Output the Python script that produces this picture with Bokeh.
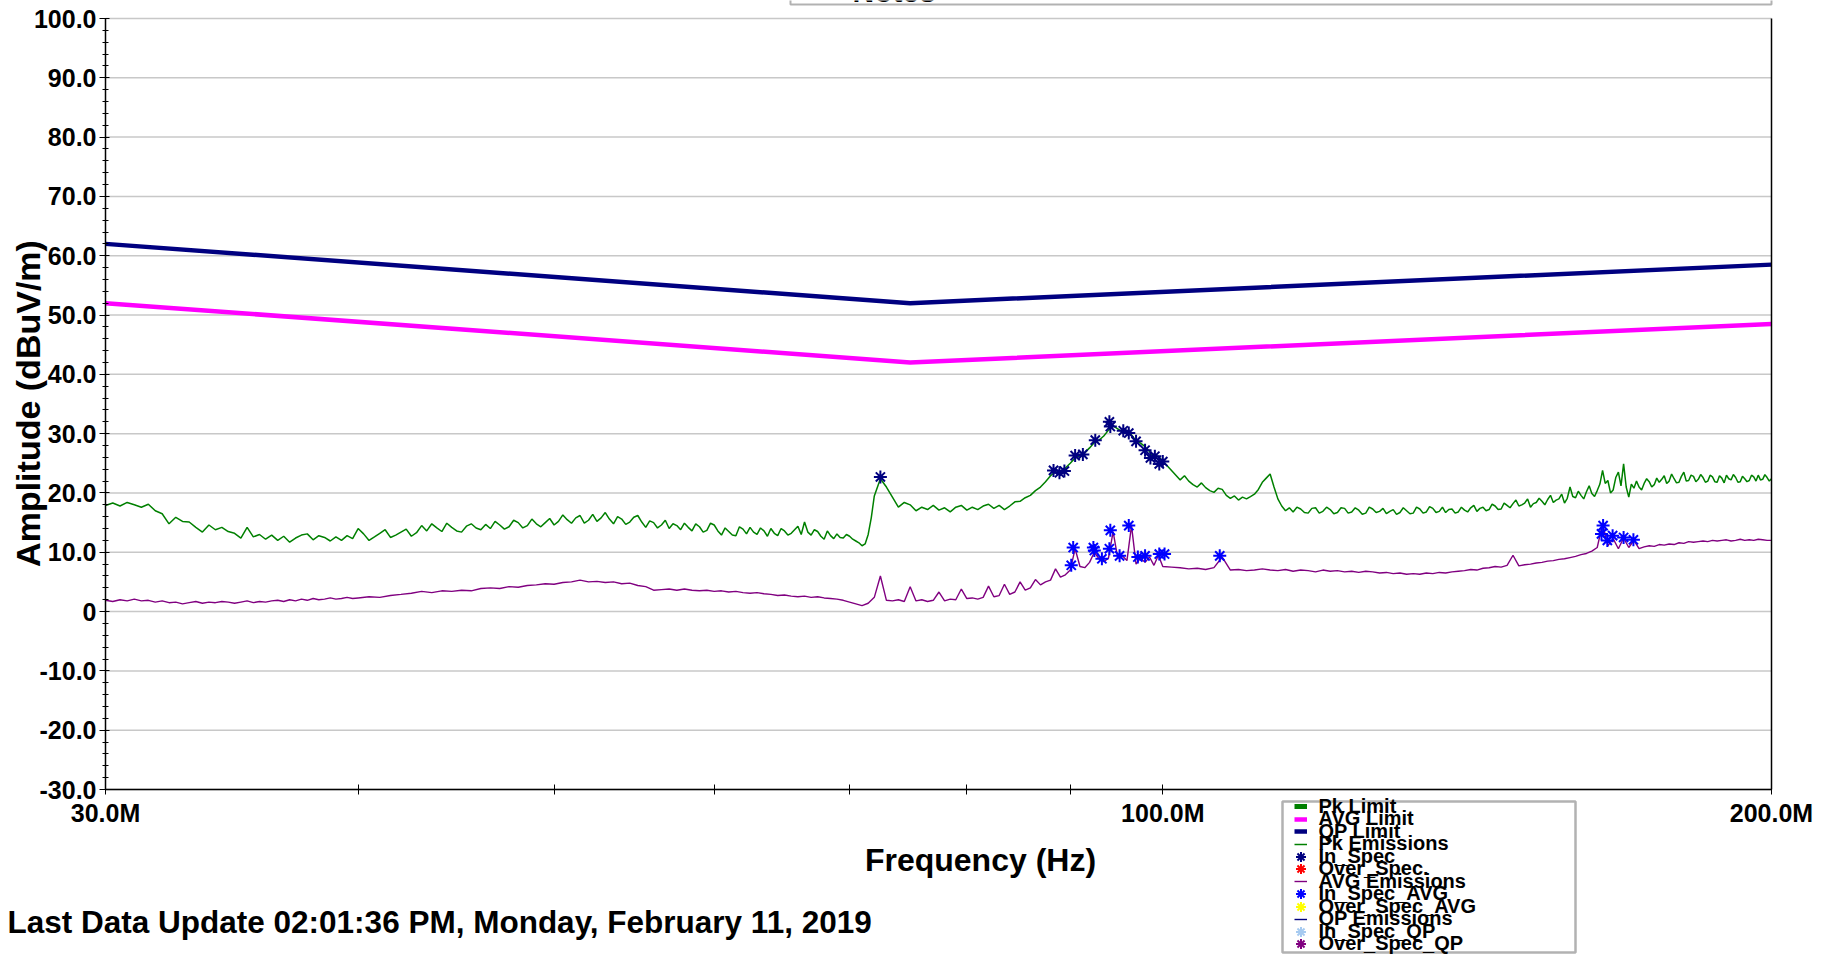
from math import pi, log, exp
from bokeh.plotting import figure
from bokeh.models import (Range1d, FixedTicker, LinearAxis, Label, Legend,
                          LegendItem, BoxAnnotation)
from bokeh.embed import file_html
from bokeh.resources import INLINE

FONT = "Liberation Sans"
NAN = float("nan")

# ---------------- data ----------------
# Peak emissions sweep (MHz, dBuV/m)
pk_freq_mhz = [
    30.0, 30.25, 30.5, 30.75, 31.0, 31.25, 31.5, 31.75, 32.0, 32.25, 32.5, 32.75,
    33.0, 33.25, 33.5, 33.75, 34.0, 34.25, 34.5, 34.75, 35.0, 35.25, 35.5, 35.75,
    36.0, 36.25, 36.5, 36.75, 37.0, 37.25, 37.5, 37.75, 38.0, 38.25, 38.5, 38.75,
    39.0, 39.25, 39.5, 39.75, 40.0,
    40.25, 40.5, 40.75, 41.0, 41.25, 41.5, 41.75, 42.0, 42.25, 42.5, 42.75, 43.0,
    43.25, 43.5, 43.75, 44.0, 44.25, 44.5, 44.75, 45.0, 45.25, 45.5, 45.75, 46.0,
    46.25, 46.5, 46.75, 47.0, 47.25, 47.5, 47.75, 48.0, 48.25, 48.5, 48.75, 49.0,
    49.25, 49.5, 49.75, 50.0, 50.25, 50.5, 50.75, 51.0, 51.25, 51.5, 51.75, 52.0,
    52.25, 52.5, 52.75, 53.0, 53.25, 53.5, 53.75, 54.0, 54.25, 54.5, 54.75, 55.0,
    55.25, 55.5, 55.75, 56.0, 56.25, 56.5, 56.75, 57.0, 57.25, 57.5, 57.75, 58.0,
    58.25, 58.5, 58.75, 59.0, 59.25, 59.5, 59.75, 60.0, 60.25, 60.5, 60.75, 61.0,
    61.25, 61.5, 61.75, 62.0, 62.25, 62.5, 62.75, 63.0, 63.25, 63.5, 63.75, 64.0,
    64.25, 64.5, 64.75, 65.0, 65.25, 65.5, 65.75, 66.0, 66.25, 66.5, 66.75, 67.0,
    67.25, 67.5, 67.75, 68.0, 68.25, 68.5, 68.75, 69.0, 69.25, 69.5, 69.75, 70.0,
    70.25, 70.5, 70.75, 71.0, 71.25, 71.5, 71.75, 72.0,
    72.5, 73.0, 73.5, 74.0, 74.5, 75.0, 75.5, 76.0, 76.5, 77.0, 77.5, 78.0, 78.5,
    79.0, 79.5, 80.0, 80.5, 81.0, 81.5, 82.0, 82.5, 83.0, 83.5, 84.0, 84.5, 85.0,
    85.5, 86.0, 86.5, 87.0, 87.5, 88.0, 88.5, 89.0, 89.5, 90.0, 90.5, 91.0, 91.5,
    92.0, 92.5, 93.0, 93.5, 94.0, 94.5, 95.0, 95.5, 96.0, 96.5, 97.0, 97.5, 98.0,
    98.5, 99.0, 99.5, 100.0,
    100.5, 101.0, 101.5, 102.0, 102.5, 103.0, 103.5, 104.0, 104.5, 105.0,
    105.5, 106.0, 106.5, 107.0, 107.5, 108.0, 108.5, 109.0, 109.5, 110.0,
    110.5, 111.0, 111.5, 112.0, 112.5, 113.0, 113.5, 114.0, 114.5, 115.0,
    115.5, 116.0, 116.5, 117.0, 117.5, 118.0, 118.5, 119.0, 119.5, 120.0,
    120.5, 121.0, 121.5, 122.0, 122.5, 123.0, 123.5, 124.0, 124.5, 125.0,
    125.5, 126.0, 126.5, 127.0, 127.5, 128.0, 128.5, 129.0, 129.5, 130.0,
    130.5, 131.0, 131.5, 132.0, 132.5, 133.0, 133.5, 134.0, 134.5, 135.0,
    135.5, 136.0, 136.5, 137.0, 137.5, 138.0, 138.5, 139.0, 139.5, 140.0,
    140.5, 141.0, 141.5, 142.0, 142.5, 143.0, 143.5, 144.0, 144.5, 145.0,
    145.5, 146.0, 146.5, 147.0, 147.5, 148.0, 148.5, 149.0, 149.5, 150.0,
    150.5, 151.0, 151.5, 152.0, 152.5, 153.0, 153.5, 154.0, 154.5, 155.0,
    155.5, 156.0, 156.5, 157.0, 157.5, 158.0, 158.5, 159.0, 159.5, 160.0,
    160.5, 161.0, 161.5, 162.0, 162.5, 163.0, 163.5, 164.0, 164.5, 165.0,
    165.5, 166.0, 166.5, 167.0, 167.5, 168.0, 168.5, 169.0, 169.5, 170.0,
    170.5, 171.0, 171.5, 172.0, 172.5, 173.0, 173.5, 174.0, 174.5, 175.0,
    175.5, 176.0, 176.5, 177.0, 177.5, 178.0, 178.5, 179.0, 179.5, 180.0,
    180.5, 181.0, 181.5, 182.0, 182.5, 183.0, 183.5, 184.0, 184.5, 185.0,
    185.5, 186.0, 186.5, 187.0, 187.5, 188.0, 188.5, 189.0, 189.5, 190.0,
    190.5, 191.0, 191.5, 192.0, 192.5, 193.0, 193.5, 194.0, 194.5, 195.0,
    195.5, 196.0, 196.5, 197.0, 197.5, 198.0, 198.5, 199.0, 199.5, 200.0,
]

pk_emissions = [
    17.9, 18.3, 17.8, 18.4, 18.0, 17.6, 18.1, 17.0, 16.5, 14.8, 15.9, 15.2,
    15.1, 14.2, 13.4, 14.6, 13.8, 14.2, 13.5, 13.2, 12.4, 14.2, 12.6, 13.0,
    12.2, 12.9, 12.0, 12.7, 11.7, 12.4, 12.9, 13.1, 12.1, 12.8, 12.5, 11.9,
    12.6, 12.0, 12.8, 12.3, 14.0,
    13.1, 12.0, 12.6, 13.2, 13.8, 12.5, 12.9, 13.4, 13.9, 12.7, 13.3, 14.5,
    13.6, 14.8, 14.1, 13.5, 14.9, 14.2, 13.6, 13.4, 14.4, 14.8, 14.1, 13.8,
    14.7, 14.0, 15.2, 14.6, 13.9, 14.3, 15.4, 15.0, 14.1, 14.5, 15.6, 14.8,
    14.3, 15.0, 15.7, 14.6, 15.2, 16.3, 15.5, 14.9, 15.8, 16.2, 14.9, 15.4,
    16.4, 15.2, 15.8, 16.7, 15.6, 14.8, 16.0, 15.6, 14.7, 15.1, 15.9, 16.2,
    15.1, 14.2, 15.3, 15.0, 14.1, 14.6, 15.4, 14.0, 14.8, 14.5, 13.8, 14.9,
    14.2, 13.6, 14.8, 14.3, 13.4, 13.7, 14.9, 14.6, 13.6, 12.9, 14.1, 13.5,
    12.9, 12.8, 14.3, 13.9, 13.1, 14.2, 13.4, 13.0, 14.1, 13.6, 12.7, 14.0,
    13.2, 12.8, 14.0, 13.6, 12.9, 13.2, 13.8, 14.4, 13.0, 15.1, 13.4, 12.9,
    13.8, 13.5, 12.7, 12.2, 13.6, 12.8, 12.3, 13.1, 12.5, 12.4, 13.0, 12.7,
    12.2, 11.9, 11.6, 11.1, 11.4, 13.0, 15.8, 19.5,
    22.4, 21.0, 19.3, 17.6, 18.4, 18.0, 17.0, 17.6, 17.2, 17.9, 17.1, 17.5, 16.8,
    17.6, 17.9, 17.1, 17.6, 17.2, 17.8, 18.1, 17.4, 17.9, 17.2, 17.8, 18.5, 18.6,
    19.2, 19.6, 20.4, 21.0, 21.9, 22.9, 23.6, 23.2, 24.2, 25.0, 25.9, 26.3, 26.8,
    27.6, 28.5, 28.9, 29.6, 30.6, 31.3, 30.8, 30.3, 30.5, 29.8, 28.8, 28.4, 27.8,
    27.0, 26.0, 26.2, 25.4,
    24.6, 23.8, 23.0, 22.2, 22.9, 22.0, 21.4, 21.0, 21.7, 20.9,
    20.4, 20.1, 20.8, 20.6, 19.6, 19.1, 19.5, 18.8, 19.3, 19.0,
    19.4, 19.8, 20.6, 21.8, 22.5, 23.2, 21.0, 19.0, 17.8, 17.0,
    17.5, 16.8, 17.6, 17.3, 16.7, 16.6, 17.4, 17.5, 16.6, 16.9,
    17.6, 17.2, 16.5, 16.7, 17.5, 17.4, 16.6, 16.8, 17.5, 17.1,
    16.4, 16.6, 17.6, 17.3, 16.7, 16.9, 17.4, 16.5, 16.9, 17.2,
    16.4, 16.7, 17.5, 17.0, 16.5, 16.6, 17.6, 17.3, 16.6, 16.8,
    17.7, 17.4, 16.7, 16.9, 17.6, 16.7, 17.2, 17.3, 16.6, 16.8,
    17.6, 17.1, 16.8, 17.5, 17.9, 16.9, 17.4, 17.6, 17.0, 17.2,
    18.1, 17.8, 17.2, 17.3, 18.3, 17.9, 17.5, 18.2, 18.8, 17.8,
    18.0, 18.3, 19.0, 17.6, 18.2, 18.4, 19.1, 18.6, 18.0, 18.9,
    19.6, 18.4, 18.8, 19.0, 19.8, 18.3, 19.1, 21.0, 19.4, 19.2,
    20.3, 19.6, 19.0, 20.2, 21.2, 19.9, 19.4, 20.4, 21.5, 23.8,
    21.6, 22.1, 20.0, 20.5, 22.6, 23.5, 21.2, 24.9, 21.0, 19.3,
    21.5, 20.8, 22.0, 21.0, 20.5, 21.6, 22.4, 21.9, 21.0, 21.4,
    22.5, 21.8, 22.3, 22.9, 21.6, 22.0, 23.2, 22.4, 21.7, 21.8,
    22.8, 23.5, 22.0, 22.1, 23.0, 22.8, 21.9, 22.3, 23.1, 22.6,
    21.8, 22.0, 23.0, 22.7, 21.9, 21.8, 22.9, 22.5, 21.7, 23.0,
    22.4, 22.2, 23.1, 22.6, 21.8, 21.9, 22.8, 22.4, 21.9, 22.1,
    23.0, 22.7, 22.0, 23.0, 22.2, 22.3, 23.1, 22.6, 22.0, 22.4,
]

# Average emissions sweep (MHz, dBuV/m)
avg_freq_mhz = [
    30.0, 30.25, 30.5, 30.75, 31.0, 31.25, 31.5, 31.75, 32.0, 32.25, 32.5, 32.75,
    33.0, 33.25, 33.5, 33.75, 34.0, 34.25, 34.5, 34.75, 35.0, 35.25, 35.5, 35.75,
    36.0, 36.25, 36.5, 36.75, 37.0, 37.25, 37.5, 37.75, 38.0, 38.25, 38.5, 38.75,
    39.0, 39.25, 39.5, 39.75, 40.0,
    40.5, 41.0, 41.5, 42.0, 42.5, 43.0, 43.5, 44.0, 44.5, 45.0, 45.5, 46.0, 46.5,
    47.0, 47.5, 48.0, 48.5, 49.0, 49.5, 50.0, 50.5, 51.0, 51.5, 52.0, 52.5, 53.0,
    53.5, 54.0, 54.5, 55.0, 55.5, 56.0, 56.5, 57.0, 57.5, 58.0, 58.5, 59.0, 59.5,
    60.0, 60.5, 61.0, 61.5, 62.0, 62.5, 63.0, 63.5, 64.0, 64.5, 65.0, 65.5, 66.0,
    66.5, 67.0, 67.5, 68.0, 68.5, 69.0, 69.5, 70.0, 70.5, 71.0, 71.5, 72.0,
    72.5, 73.0, 73.5, 74.0, 74.5, 75.0, 75.5, 76.0, 76.5, 77.0, 77.5, 78.0, 78.5,
    79.0, 79.5, 80.0, 80.5, 81.0, 81.5, 82.0, 82.5, 83.0, 83.5, 84.0, 84.5, 85.0,
    85.5, 86.0, 86.5, 87.0, 87.5, 88.0, 88.5, 89.0, 89.5, 90.0, 90.5, 91.0, 91.5,
    92.0, 92.5, 93.0, 93.5, 94.0, 94.5, 95.0, 95.5, 96.0, 96.5, 97.0, 97.5, 98.0,
    98.5, 99.0, 99.5, 100.0,
    101, 102, 103, 104, 105, 106, 107, 108, 109, 110, 111, 112, 113, 114, 115,
    116, 117, 118, 119, 120, 121, 122, 123, 124, 125, 126, 127, 128, 129, 130,
    131, 132, 133, 134, 135, 136, 137, 138, 139, 140, 141, 142, 143, 144, 145,
    146, 147, 148, 149, 150, 151, 152, 153, 154, 155, 156, 157, 158, 159, 160,
    161, 162, 163, 164, 165, 166, 167, 168, 169, 170, 171, 172, 173, 174, 175,
    176, 177, 178, 179, 180, 181, 182, 183, 184, 185, 186, 187, 188, 189, 190,
    191, 192, 193, 194, 195, 196, 197, 198, 199, 200,
]

avg_emissions = [
    1.9, 1.7, 2.0, 1.8, 2.1, 1.8, 1.9, 1.6, 1.8, 1.5, 1.6, 1.3,
    1.5, 1.7, 1.4, 1.6, 1.5, 1.7, 1.6, 1.4, 1.6, 1.8, 1.5, 1.7,
    1.6, 1.8, 1.9, 1.7, 2.0, 1.8, 2.1, 1.9, 2.2, 2.0, 2.1, 2.3,
    2.1, 2.2, 2.4, 2.2, 2.3,
    2.5, 2.4, 2.7, 2.9, 3.1, 3.4, 3.2, 3.5, 3.4, 3.6,
    3.5, 3.9, 4.0, 3.9, 4.2, 4.1, 4.4, 4.5, 4.7, 4.6,
    4.9, 5.0, 5.3, 5.0, 5.1, 4.9, 5.0, 4.7, 4.8, 4.4,
    4.2, 3.6, 3.7, 3.8, 3.6, 3.8, 3.6, 3.5, 3.6, 3.4,
    3.5, 3.3, 3.4, 3.2, 3.1, 3.2, 3.0, 2.9, 2.7, 2.8,
    2.6, 2.5, 2.6, 2.4, 2.5, 2.3, 2.2, 2.1, 1.9, 1.6,
    1.3, 1.0, 1.4, 2.4,
    6.0, 1.9, 1.8, 2.0, 1.7, 4.2, 1.8, 2.0, 1.7, 1.9,
    3.3, 1.8, 2.1, 2.0, 3.8, 2.2, 2.3, 2.1, 2.4, 4.3,
    2.5, 2.7, 4.6, 2.9, 3.3, 5.0, 3.6, 4.0, 5.4, 4.5,
    5.0, 5.3, 7.2, 5.8, 6.2, 7.0, 10.6, 7.6, 7.4, 8.3,
    10.0, 8.9, 8.4, 9.0, 13.5, 9.0, 9.4, 8.6, 14.5, 8.0,
    9.0, 8.3, 9.2, 7.8, 9.5, 7.6,
    7.5, 7.4, 7.2, 7.3, 7.1, 7.4, 9.2, 7.0, 7.1, 6.9,
    7.0, 7.2, 7.0, 6.9, 7.1, 6.8, 7.0, 6.9, 6.7, 7.0,
    6.8, 6.9, 6.7, 6.8, 6.6, 6.8, 6.7, 6.5, 6.6, 6.4,
    6.5, 6.3, 6.4, 6.3, 6.5, 6.4, 6.6, 6.5, 6.7, 6.8,
    6.9, 7.1, 7.0, 7.3, 7.4, 7.6, 7.5, 7.8, 9.5, 7.7,
    7.9, 8.0, 8.2, 8.3, 8.5, 8.6, 8.8, 8.9, 9.1, 9.3,
    9.6, 9.8, 10.2, 10.8, 14.8, 11.1, 12.3, 10.6, 12.4, 10.8,
    12.0, 10.6, 10.9, 11.1, 11.0, 11.3, 11.2, 11.4, 11.3, 11.6,
    11.5, 11.8, 11.7, 11.8, 11.9, 11.8, 12.0, 11.9, 12.0, 12.1,
    11.9, 12.0, 12.2, 12.0, 12.1, 12.0, 12.2, 12.1, 12.0, 12.0,
]

limit_freq_mhz = [30.0, 75.0, 200.0]
qp_limit = [62.0, 52.0, 58.5]
avg_limit = [52.0, 42.0, 48.5]

in_spec_freq = [72.5, 88.3, 88.9, 89.4, 90.5, 91.3, 92.6, 94.1, 94.2, 95.6,
                96.2, 97.0, 98.0, 98.6, 99.1, 99.6, 100.0]
in_spec_amp = [22.7, 23.8, 23.4, 23.7, 26.3, 26.5, 28.9, 32.0, 31.2, 30.5,
               30.1, 28.7, 27.2, 25.9, 26.2, 24.9, 25.3]

in_spec_avg_freq = [90.1, 90.3, 92.4, 92.5, 93.3, 94.1, 94.2, 95.2, 96.2, 97.2,
                    98.0, 99.6, 100.2, 106.7, 164.8, 165.1, 165.9, 166.9, 169.0,
                    170.9]
in_spec_avg_amp = [7.8, 10.8, 10.8, 10.3, 8.9, 10.6, 13.7, 9.4, 14.5, 9.2,
                   9.4, 9.7, 9.7, 9.4, 13.1, 14.5, 12.0, 12.8, 12.5, 12.1]

y_ticks = [-30, -20, -10, 0, 10, 20, 30, 40, 50, 60, 70, 80, 90, 100]
y_tick_labels = ["-30.0", "-20.0", "-10.0", "0", "10.0", "20.0", "30.0",
                 "40.0", "50.0", "60.0", "70.0", "80.0", "90.0", "100.0"]
y_minor_ticks = [v for v in range(-30, 101, 2) if v % 10 != 0]
x_ticks = [30, 100, 200]
x_tick_labels = ["30.0M", "100.0M", "200.0M"]
x_minor_ticks = [40, 50, 60, 70, 80, 90]

legend_labels = ["Pk Limit", "AVG Limit", "QP Limit", "Pk Emissions", "In_Spec",
                 "Over_Spec.", "AVG Emissions", "In_Spec_AVG", "Over_Spec_AVG",
                 "QP Emissions", "In_Spec_QP", "Over_Spec_QP"]

# ---------------- layout (pixels on the page) ----------------
W, H = 1840, 954
AX_L, AX_R, AX_T, AX_B = 105, 1771, 18, 789
X_MIN, X_MAX, Y_MIN, Y_MAX = 30.0, 200.0, -30.0, 100.0

px_per_ln = (AX_R - AX_L) / log(X_MAX / X_MIN)
x_start = X_MIN * exp(-AX_L / px_per_ln)
x_end = X_MAX * exp((W - AX_R) / px_per_ln)
units_per_px = (Y_MAX - Y_MIN) / (AX_B - AX_T)
y_start = Y_MIN - (H - AX_B) * units_per_px
y_end = Y_MAX + AX_T * units_per_px


def sy(page_y):
    return H - page_y


p = figure(width=W, height=H, x_axis_type="log",
           x_range=Range1d(x_start, x_end), y_range=Range1d(y_start, y_end),
           output_backend="svg", toolbar_location=None,
           min_border=0, min_border_left=0, min_border_right=0,
           min_border_top=0, min_border_bottom=0)
p.background_fill_color = "white"
p.border_fill_color = "white"
p.outline_line_color = None
p.xgrid.visible = False
p.ygrid.visible = False

xa = p.xaxis[0]
xa.fixed_location = Y_MIN
xa.bounds = (X_MIN, X_MAX)
xa.ticker = FixedTicker(ticks=x_ticks, minor_ticks=x_minor_ticks)
xa.major_label_overrides = dict(zip(x_ticks, x_tick_labels))
ya = p.yaxis[0]
ya.fixed_location = X_MIN
ya.bounds = (Y_MIN, Y_MAX)
ya.ticker = FixedTicker(ticks=y_ticks, minor_ticks=y_minor_ticks)
ya.major_label_overrides = dict(zip(y_ticks, y_tick_labels))

for ax in (xa, ya):
    ax.axis_line_color = "black"
    ax.axis_line_width = 1.5
    ax.major_tick_line_color = "black"
    ax.minor_tick_line_color = "black"
    ax.major_label_text_font = FONT
    ax.major_label_text_font_style = "bold"
    ax.major_label_text_font_size = "25px"
    ax.major_label_text_color = "black"

xa.major_tick_in = 5
xa.major_tick_out = 5
xa.minor_tick_in = 5
xa.minor_tick_out = 5
xa.major_label_standoff = 4
ya.major_tick_in = 4
ya.major_tick_out = 6
ya.minor_tick_in = 3
ya.minor_tick_out = 3
ya.major_label_standoff = 3

right_axis = LinearAxis(ticker=FixedTicker(ticks=[]), fixed_location=X_MAX,
                        bounds=(Y_MIN, Y_MAX), axis_line_color="black",
                        axis_line_width=1.5, major_tick_line_color=None,
                        minor_tick_line_color=None,
                        major_label_text_font_size="0px")
p.add_layout(right_axis, "right")

# horizontal grid lines between the axes
p.segment(x0=[X_MIN] * len(y_ticks), x1=[X_MAX] * len(y_ticks),
          y0=y_ticks, y1=y_ticks, line_color="#c8c8c8", line_width=1.5)

# ---------------- glyphs ----------------
r_pk_lim = p.line([NAN], [NAN], line_color="#008000", line_width=5)
r_avg_lim = p.line(limit_freq_mhz, avg_limit, line_color="#FF00FF", line_width=4.5)
r_qp_lim = p.line(limit_freq_mhz, qp_limit, line_color="#000080", line_width=4.5)
r_pk = p.line(pk_freq_mhz, pk_emissions, line_color="#008000", line_width=1.5)
r_avg = p.line(avg_freq_mhz, avg_emissions, line_color="#800080", line_width=1.4)
r_qp = p.line([NAN], [NAN], line_color="#000080", line_width=1.4)
mk = dict(marker="asterisk", size=13, line_width=2)
r_in = p.scatter(in_spec_freq, in_spec_amp, line_color="#000080", **mk)
r_over = p.scatter([NAN], [NAN], line_color="#FF0000", **mk)
r_in_avg = p.scatter(in_spec_avg_freq, in_spec_avg_amp, line_color="#0000FF", **mk)
r_over_avg = p.scatter([NAN], [NAN], line_color="#FFFF00", **mk)
r_in_qp = p.scatter([NAN], [NAN], line_color="#A6CAF0", **mk)
r_over_qp = p.scatter([NAN], [NAN], line_color="#800080", **mk)

renderers = [r_pk_lim, r_avg_lim, r_qp_lim, r_pk, r_in, r_over, r_avg, r_in_avg,
             r_over_avg, r_qp, r_in_qp, r_over_qp]
is_marker = [False, False, False, False, True, True, False, True, True, False,
             True, True]

# ---------------- texts ----------------
txt = dict(x_units="screen", y_units="screen", text_font=FONT,
           text_font_style="bold", text_color="black")

p.add_layout(Label(x=27, y=sy(403), text="Amplitude (dBuV/m)", angle=pi / 2,
                   text_align="center", text_baseline="middle",
                   text_font_size="34px", **txt))
p.add_layout(Label(x=980, y=sy(859), text="Frequency (Hz)", text_align="center",
                   text_baseline="middle", text_font_size="32px", **txt))
p.add_layout(Label(x=7, y=sy(921),
                   text="Last Data Update 02:01:36 PM, Monday, February 11, 2019",
                   text_align="left", text_baseline="middle",
                   text_font_size="31.5px", **txt))

# Notes box at the very top (mostly above the page)
p.add_layout(BoxAnnotation(left=790, right=AX_R, bottom=sy(4), top=sy(-30),
                           left_units="screen", right_units="screen",
                           top_units="screen", bottom_units="screen",
                           fill_color="white", fill_alpha=1.0,
                           line_color="black", line_width=2))
p.add_layout(Label(x=852, y=sy(-9), text="Notes", text_align="left",
                   text_baseline="alphabetic", text_font_size="30px", **txt))

# Legend box below the plot
p.add_layout(BoxAnnotation(left=1282, right=1575, top=sy(801), bottom=sy(952),
                           left_units="screen", right_units="screen",
                           top_units="screen", bottom_units="screen",
                           fill_color="white", fill_alpha=1.0,
                           line_color="black", line_width=2.5))

# one single-entry legend per row so rows can overlap like the reference
GLYPH_CX, LABEL_X, FIRST_CENTER, PITCH, TEXT_H = 1300, 1319, 806, 12.5, 23
for i, (lab, rend, mark) in enumerate(zip(legend_labels, renderers, is_marker)):
    gw = 25 if mark else 13
    gh = 25 if mark else 20
    row_h = max(gh, TEXT_H)
    center = FIRST_CENTER + i * PITCH
    bottom = center + row_h / 2
    left = GLYPH_CX - gw / 2
    p.add_layout(Legend(items=[LegendItem(label=lab, renderers=[rend])],
                        location=(left, sy(bottom)), border_line_color=None,
                        background_fill_alpha=0.0, padding=0, spacing=0,
                        glyph_width=gw, glyph_height=gh,
                        label_standoff=int(round(LABEL_X - left - gw)),
                        label_text_font=FONT, label_text_font_style="bold",
                        label_text_font_size="20px", label_text_color="black"))

open("out.html", "w").write(file_html(p, INLINE))
